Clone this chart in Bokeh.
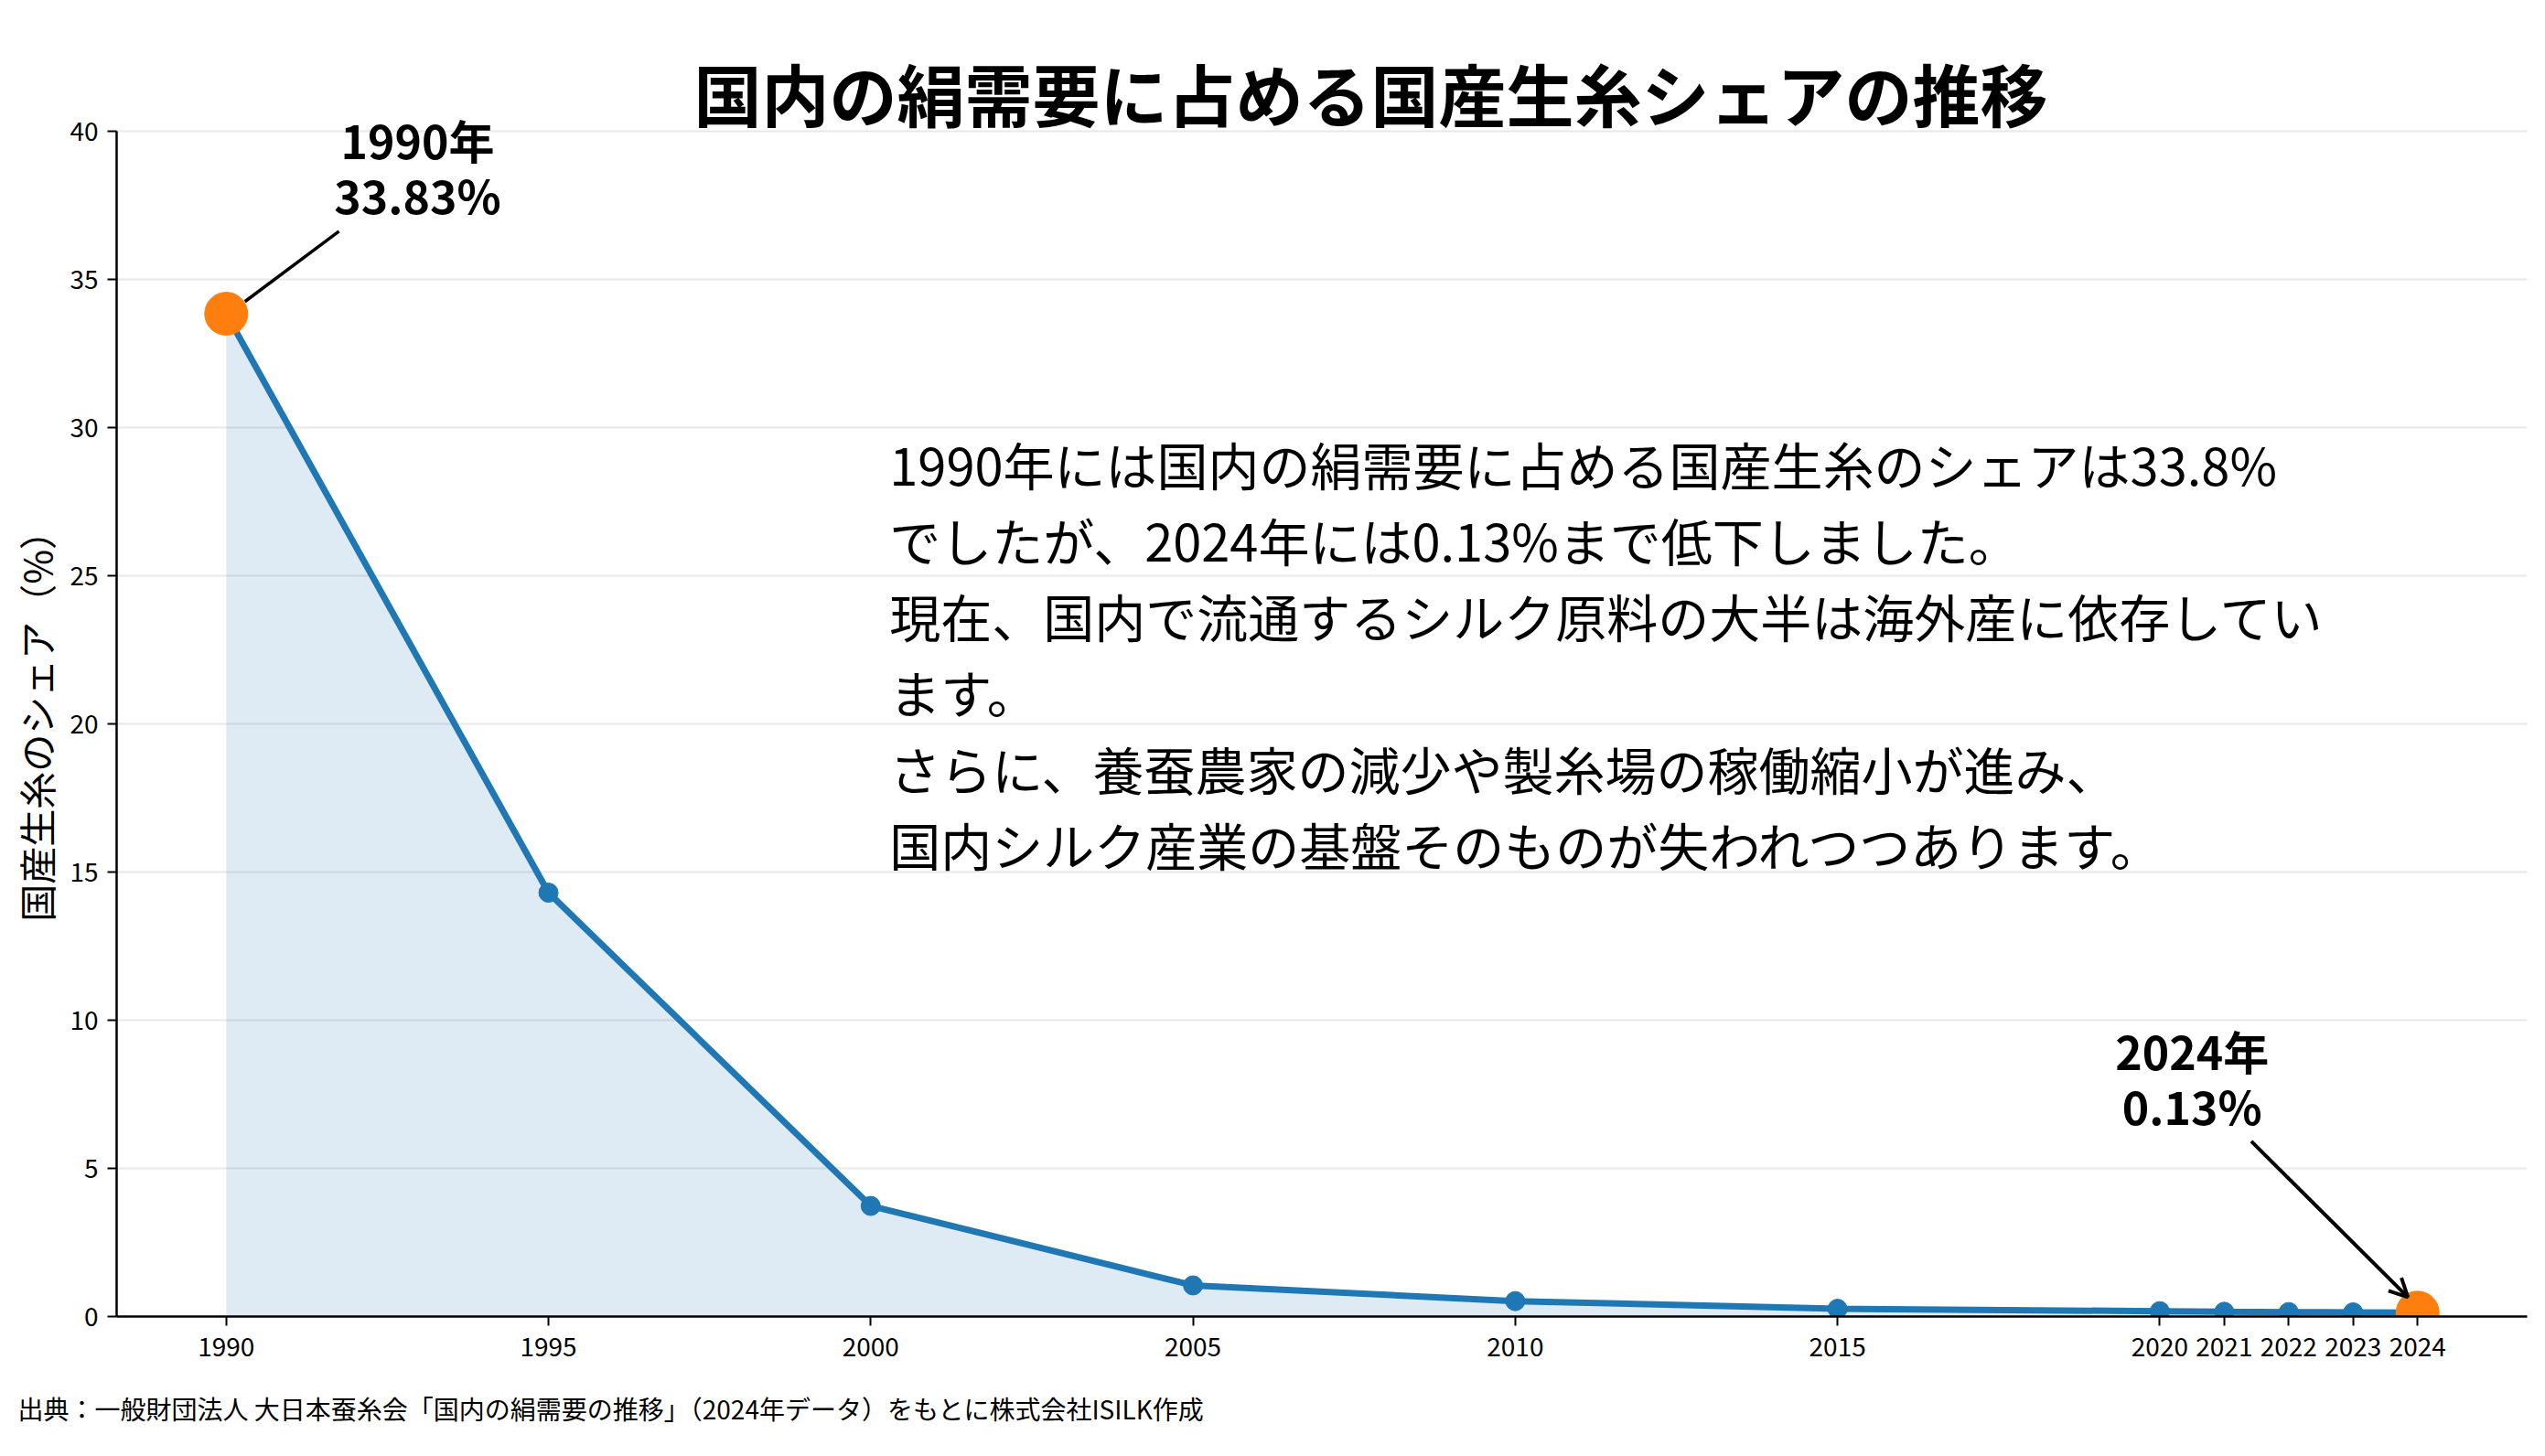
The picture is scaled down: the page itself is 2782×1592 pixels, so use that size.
from bokeh.plotting import figure
from bokeh.models import (ColumnDataSource, FixedTicker, Label, Arrow, OpenHead, Range1d, Title)
from bokeh.core.properties import value
from bokeh.embed import file_html
from bokeh.resources import INLINE

# ---- data ----
years = [1990, 1995, 2000, 2005, 2010, 2015, 2020, 2021, 2022, 2023, 2024]
share = [33.83, 14.3, 3.73, 1.05, 0.52, 0.26, 0.18, 0.16, 0.15, 0.14, 0.13]
y_ticks = [0, 5, 10, 15, 20, 25, 30, 35, 40]

title_text = "国内の絹需要に占める国産生糸シェアの推移"
ylabel_text = "国産生糸のシェア（%）"
body_lines = [
    "1990年には国内の絹需要に占める国産生糸のシェアは33.8%",
    "でしたが、2024年には0.13%まで低下しました。",
    "現在、国内で流通するシルク原料の大半は海外産に依存してい",
    "ます。",
    "さらに、養蚕農家の減少や製糸場の稼働縮小が進み、",
    "国内シルク産業の基盤そのものが失われつつあります。",
]
source_text = "出典：一般財団法人 大日本蚕糸会「国内の絹需要の推移」（2024年データ）をもとに株式会社ISILK作成"
first_label = ["1990年", "33.83%"]
last_label = ["2024年", "0.13%"]

FONT = "Noto Sans CJK JP"
BLUE = "#1f77b4"
ORANGE = "#ff7f0e"

W, H = 2766, 1592
span = years[-1] - years[0]
x0 = years[0] - span * 0.05
x1 = years[-1] + span * 0.05
y_top = 40.45   # a little headroom so the 1990 callout is not clipped

p = figure(width=W, height=H, output_backend="svg", toolbar_location=None,
           x_range=Range1d(x0, x1), y_range=Range1d(0, y_top),
           min_border_left=127, min_border_right=4,
           min_border_top=128, min_border_bottom=151)
p.title = None
p.outline_line_color = None
p.background_fill_color = "white"
p.border_fill_color = "white"

# title above the frame
p.add_layout(Title(text=title_text, align="left", offset=631, standoff=-51,
                   text_font=FONT, text_font_size="74px", text_font_style="bold",
                   text_color="black"), "above")

# axes
p.xaxis.ticker = FixedTicker(ticks=years)
p.xaxis.major_label_overrides = {y: str(y) for y in years}
p.yaxis.ticker = FixedTicker(ticks=y_ticks)
p.yaxis.major_label_overrides = {t: str(t) for t in y_ticks}
p.yaxis.bounds = (y_ticks[0], y_ticks[-1])
for ax in (p.xaxis, p.yaxis):
    ax.axis_line_width = 2.5
    ax.axis_line_color = "black"
    ax.major_tick_line_width = 2
    ax.major_tick_line_color = "black"
    ax.major_tick_out = 10
    ax.major_tick_in = 0
    ax.minor_tick_line_color = None
    ax.major_label_text_font = FONT
    ax.major_label_text_font_size = "28px"
    ax.major_label_text_color = "black"
p.xaxis.major_label_standoff = 12
p.yaxis.major_label_standoff = 10
p.yaxis.axis_label = ylabel_text
p.yaxis.axis_label_text_font = FONT
p.yaxis.axis_label_text_font_size = "41px"
p.yaxis.axis_label_text_font_style = "normal"
p.yaxis.axis_label_text_color = "black"
p.yaxis.axis_label_standoff = 4

# source note below the axis
p.add_layout(Title(text=source_text, align="left", offset=-108, standoff=65,
                   text_font=FONT, text_font_size="28px", text_font_style="normal",
                   text_color="black"), "below")

p.xgrid.grid_line_color = None
p.ygrid.grid_line_color = "#e8e8e8"
p.ygrid.grid_line_width = 2

src = ColumnDataSource(dict(x=years, y=share))
p.varea(x="x", y1=0, y2="y", source=src, fill_color=BLUE, fill_alpha=0.15)
p.line(x="x", y="y", source=src, line_color=BLUE, line_width=7)
p.scatter(x="x", y="y", source=src, size=21, fill_color=BLUE, line_color=BLUE)
p.scatter(x=[years[0], years[-1]], y=[share[0], share[-1]], size=47,
          fill_color=ORANGE, line_color=ORANGE)

# 1990 callout
lx = years[0] + 2.97
for i, t in enumerate(first_label):
    p.add_layout(Label(x=lx, y=share[0] + 5.9 - i * 1.85, text=t,
                       text_font=FONT, text_font_size="50px",
                       text_font_style="bold", text_align="center",
                       text_baseline="middle", text_color="black"))
p.add_layout(Arrow(end=None, x_start=years[0] + 0.29, y_start=share[0] + 0.41,
                   x_end=years[0] + 1.75, y_end=share[0] + 2.78,
                   line_width=3.5, line_color="black"))

# 2024 callout
lx2 = years[-1] - 3.5
for i, t in enumerate(last_label):
    p.add_layout(Label(x=lx2, y=share[-1] + 8.86 - i * 1.85, text=t,
                       text_font=FONT, text_font_size="50px",
                       text_font_style="bold", text_align="center",
                       text_baseline="middle", text_color="black"))
p.add_layout(Arrow(end=OpenHead(size=20, line_width=4, line_color="black"),
                   x_start=years[-1] - 2.58, y_start=share[-1] + 5.78,
                   x_end=years[-1] - 0.15, y_end=share[-1] + 0.52,
                   line_width=4, line_color="black"))

# body text
body_x = 2000.29
body_y = [(1451 - (517 + 83.2 * i)) / 32.45 for i in range(len(body_lines))]
bsrc = ColumnDataSource(dict(x=[body_x] * len(body_lines), y=body_y, t=body_lines))
p.text(x="x", y="y", text="t", source=bsrc, text_font=value(FONT),
       text_font_size="56px", text_align="left", text_baseline="middle",
       text_color="black")

open("out.html", "w").write(file_html(p, INLINE))
